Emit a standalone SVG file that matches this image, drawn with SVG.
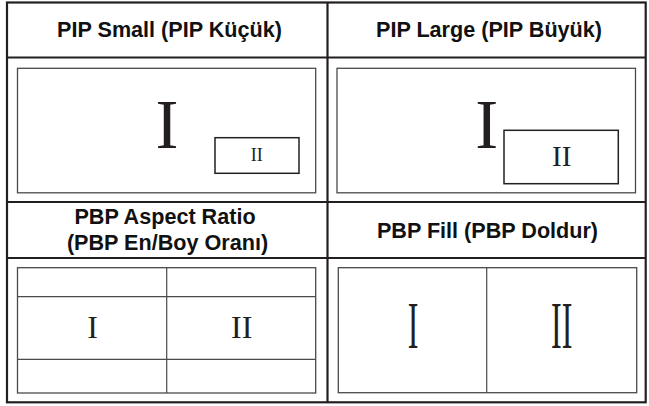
<svg xmlns="http://www.w3.org/2000/svg" width="649" height="406" viewBox="0 0 649 406">
<style>
.frame{fill:none;stroke:#231f20;stroke-width:2.2}
.box{fill:none;stroke:#4a4a4a;stroke-width:1.3}
.sub{fill:none;stroke:#231f20;stroke-width:1.5}
.div{stroke:#4a4a4a;stroke-width:1.2}
.hd{font-family:"Liberation Sans",Arial,sans-serif;font-weight:bold;font-size:21.6px;fill:#111;text-anchor:middle}
.rn{font-family:"Liberation Serif","Times New Roman",serif;fill:#231f20;text-anchor:middle}
</style>
<rect x="0" y="0" width="649" height="406" fill="#fff"/>
<g id="table">
<rect class="frame" x="7" y="2.5" width="638.7" height="399.8"/>
<line class="frame" x1="7" y1="57.5" x2="645.7" y2="57.5"/>
<line class="frame" x1="7" y1="202" x2="645.7" y2="202"/>
<line class="frame" x1="7" y1="258" x2="645.7" y2="258"/>
<line class="frame" x1="327.5" y1="2.5" x2="327.5" y2="402.3"/>
</g>
<g id="pip-small">
<text class="hd" x="169.5" y="37.2">PIP Small (PIP Küçük)</text>
<rect class="box" x="17.5" y="68.3" width="298.2" height="124.5"/>
<text class="rn" x="167" y="148.3" font-size="69">I</text>
<rect class="sub" x="215" y="137.7" width="84" height="35.6"/>
<text class="rn" x="256.7" y="161" font-size="18">II</text>
</g>
<g id="pip-large">
<text class="hd" x="489" y="37.2">PIP Large (PIP Büyük)</text>
<rect class="box" x="337" y="68.3" width="298.5" height="124.5"/>
<text class="rn" x="486.7" y="148.3" font-size="69">I</text>
<rect class="sub" x="504" y="130.3" width="114.3" height="53.4"/>
<text class="rn" x="561.7" y="165.7" font-size="29">II</text>
</g>
<g id="pbp-aspect">
<text class="hd" x="165" y="223.5">PBP Aspect Ratio</text>
<text class="hd" x="167.5" y="250">(PBP En/Boy Oranı)</text>
<rect class="box" x="17.5" y="267.7" width="298.2" height="125.3"/>
<line class="div" x1="17.5" y1="296.7" x2="315.7" y2="296.7"/>
<line class="div" x1="17.5" y1="359.3" x2="315.7" y2="359.3"/>
<line class="div" x1="166.7" y1="267.7" x2="166.7" y2="393"/>
<text class="rn" x="92.7" y="337.7" font-size="32">I</text>
<text class="rn" x="241.7" y="337.7" font-size="32">II</text>
</g>
<g id="pbp-fill">
<text class="hd" x="487.5" y="237.5">PBP Fill (PBP Doldur)</text>
<rect class="box" x="338.3" y="267.7" width="298.4" height="125"/>
<line class="div" x1="486.7" y1="267.7" x2="486.7" y2="392.7"/>
<text class="rn" font-size="32" transform="translate(413,347.7) scale(1,2.1)">I</text>
<text class="rn" font-size="32" transform="translate(561.7,347.7) scale(1,2.1)">II</text>
</g>
<g id="connectors"/>
</svg>
